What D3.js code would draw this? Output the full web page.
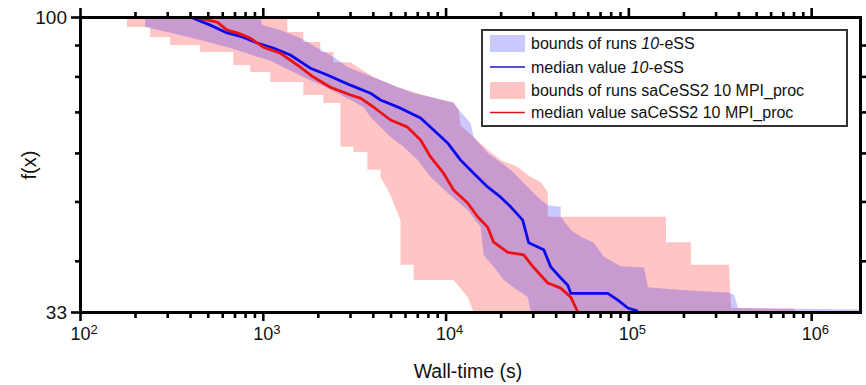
<!DOCTYPE html>
<html><head><meta charset="utf-8">
<script src="https://cdn.jsdelivr.net/npm/d3@7"></script>
<style>
body{margin:0;background:#fff;}
text{font-family:"Liberation Sans",Arial,Helvetica,sans-serif;fill:#111;}
</style>
</head><body>
<svg id="c" width="866" height="385"></svg>
<script>
// ---- data (time in s, f(x)) ----
const xLabelTicks = [1e2, 1e3, 1e4, 1e5, 1e6];
const yLabelTicks = [33, 100];
const yMinorTicks = [40, 50, 60, 70, 80, 90];

const blueMedian = [[401,100],[516,97.0],[639,94.2],[772,92.8],[933,90.7],[1141,89.0],[1415,86.7],[1821,82.5],[2256,80.4],[3017,77.4],[3881,75.1],[4404,73.2],[5667,71.0],[7295,68.4],[8598,65.4],[10255,62.3],[12085,58.4],[14238,55.6],[16986,52.8],[20013,50.8],[22711,49.0],[26421,46.6],[28493,42.8],[34435,41.7],[37610,39.1],[42669,37.5],[46613,36.5],[48415,35.4],[77208,35.4],[87597,34.5],[99380,33.5],[112740,33.1]];

const redMedian = [[416,100],[563,98.1],[639,95.2],[725,94.2],[854,92.4],[1006,89.3],[1247,87.3],[1545,83.5],[1891,79.8],[2344,76.8],[3017,74.6],[3421,73.7],[4032,71.3],[4995,67.9],[6192,66.1],[7295,63.0],[8276,59.1],[9750,55.6],[11060,52.2],[13200,49.7],[14972,47.2],[16986,45.4],[18323,42.9],[21862,41.3],[26753,40.9],[30350,39.0],[36218,36.8],[42669,36.1],[48415,34.9],[52889,33.0]];

// bounds of runs saCeSS2: worst run (upper) and best run (lower)
const redUpper = [[1006,100],[1006,99.6],[1362,99.6],[1362,94.5],[1667,94.5],[1667,91.0],[2066,91.0],[2066,87.7],[2434,87.7],[2434,84.4],[3017,84.4],[3295,82.9],[4032,79.8],[5458,76.8],[8276,74.0],[11060,72.6],[11780,70.5],[12085,66.6],[14238,63.7],[16986,60.7],[20013,58.4],[24807,56.9],[29224,54.8],[33150,53.8],[36218,51.8],[36218,47.2],[160550,47.2],[160550,42.9],[220000,42.9],[220000,39.4],[355400,39.4],[364400,33.5],[807000,33.4],[827600,33.0]];
const redLower = [[181,100],[181,96.3],[242,96.3],[242,92.8],[311,92.8],[311,90.0],[454,90.0],[454,87.7],[689,87.7],[689,83.5],[854,83.5],[854,81.3],[1099,81.3],[1099,78.3],[1667,78.3],[1667,74.6],[2145,74.6],[2145,72.4],[2659,72.4],[2659,61.4],[3133,61.4],[3133,60.2],[3737,60.2],[3737,56.3],[4404,56.3],[4404,54.8],[4995,51.2],[5667,46.6],[5667,39.4],[6679,39.4],[6679,37.2],[11060,37.2],[13200,34.9],[14238,33.0]];

// bounds of runs 10-eSS
const blueUpper = [[969,100],[994,97.0],[1247,95.2],[1605,92.4],[1989,89.0],[2496,85.7],[2904,82.9],[4404,78.9],[6679,75.1],[8276,74.0],[11060,72.4],[12085,70.0],[13709,67.1],[14238,63.7],[16986,60.0],[22711,56.3],[31923,50.8],[36218,49.3],[42669,49.0],[42669,47.2],[48415,44.9],[54929,43.8],[64714,42.8],[73411,40.6],[90974,39.2],[121600,39.0],[127900,36.2],[201500,35.8],[351000,35.5],[378500,35.2],[398100,33.5],[1850000,33.3],[1850000,33.0]];
const blueLower = [[227,100],[227,96.3],[300,94.5],[454,91.7],[664,89.0],[1099,84.8],[1667,79.8],[2256,76.6],[3017,73.2],[3554,71.3],[3881,68.7],[4995,63.7],[5888,61.4],[7023,58.4],[8276,54.8],[10255,51.6],[13200,48.4],[15553,45.4],[16152,40.9],[18323,39.1],[20785,37.2],[24807,35.8],[28135,34.9],[29224,33.0]];

const legendLabels = [
  ["bounds of runs ", "10", "-eSS"],
  ["median value ", "10", "-eSS"],
  ["bounds of runs saCeSS2 10 MPI_proc", "", ""],
  ["median value saCeSS2 10 MPI_proc", "", ""]
];
const legendKinds = ["blueBand", "blueLine", "redBand", "redLine"];

// ---- chart ----
const svg = d3.select("#c");
const x = d3.scaleLog().domain([100, 1.85e6]).range([80, 860]);
const y = d3.scaleLog().domain([33, 100]).range([312, 17]);

const BLUE = "#0a0af0", RED = "#ee1111";
const styles = {
  blueBand: {fill: "#0000ff", op: 0.21},
  redBand: {fill: "#ff0000", op: 0.23}
};

svg.append("defs").append("clipPath").attr("id", "clip")
  .append("rect").attr("x", 80).attr("y", 17).attr("width", 780).attr("height", 295);

const plot = svg.append("g").attr("clip-path", "url(#clip)");
const line = d3.line().x(d => x(d[0])).y(d => y(d[1]));

function band(upper, lower, st) {
  const poly = upper.concat(lower.slice().reverse());
  plot.append("path").attr("d", line(poly) + "Z")
    .attr("fill", st.fill).attr("fill-opacity", st.op).attr("stroke", "none");
}
band(redUpper, redLower, styles.redBand);
band(blueUpper, blueLower, styles.blueBand);

plot.append("path").attr("d", line(blueMedian)).attr("fill", "none")
  .attr("stroke", BLUE).attr("stroke-width", 2.8).attr("stroke-linejoin", "round");
plot.append("path").attr("d", line(redMedian)).attr("fill", "none")
  .attr("stroke", RED).attr("stroke-width", 2.8).attr("stroke-linejoin", "round");

// ---- axes ----
const xMinor = x.ticks().filter(v => !xLabelTicks.includes(v));

function styleAxis(g, keepDomain) {
  g.selectAll(".tick line").attr("stroke", "#000").attr("stroke-width", 2.6);
  if (keepDomain) g.select(".domain").attr("stroke", "#000").attr("stroke-width", 3).attr("stroke-linecap", "square");
  else g.select(".domain").remove();
}

// bottom
let g = svg.append("g").attr("transform", "translate(0,312)")
  .call(d3.axisBottom(x).tickValues(xMinor).tickSize(6).tickSizeOuter(0).tickFormat(""));
styleAxis(g, true);
g = svg.append("g").attr("transform", "translate(0,312)")
  .call(d3.axisBottom(x).tickValues(xLabelTicks).tickSize(9).tickSizeOuter(0).tickPadding(6).tickFormat(() => ""));
styleAxis(g, false);
g.selectAll(".tick text").each(function(d) {
  const t = d3.select(this).attr("font-size", 18).attr("fill", "#111").attr("font-family", null);
  t.text(null);
  t.append("tspan").text("10");
  t.append("tspan").attr("dy", "-0.42em").attr("font-size", 13).text(String(Math.round(Math.log10(d))));
  t.attr("dx", "0.2em");
});

// top
g = svg.append("g").attr("transform", "translate(0,17)")
  .call(d3.axisTop(x).tickValues(xMinor).tickSize(5).tickSizeOuter(0).tickFormat(""));
styleAxis(g, true);
g = svg.append("g").attr("transform", "translate(0,17)")
  .call(d3.axisTop(x).tickValues(xLabelTicks).tickSize(9).tickSizeOuter(0).tickFormat(""));
styleAxis(g, false);

// left
g = svg.append("g").attr("transform", "translate(80,0)")
  .call(d3.axisLeft(y).tickValues(yMinorTicks).tickSize(5).tickSizeOuter(0).tickFormat(""));
styleAxis(g, true);
g = svg.append("g").attr("transform", "translate(80,0)")
  .call(d3.axisLeft(y).tickValues(yLabelTicks).tickSize(9).tickSizeOuter(0).tickPadding(4).tickFormat(d3.format("d")));
styleAxis(g, false);
g.selectAll(".tick text").attr("font-size", 19).attr("fill", "#111").attr("font-family", null);

// right
g = svg.append("g").attr("transform", "translate(860,0)")
  .call(d3.axisRight(y).tickValues(yMinorTicks).tickSize(6).tickSizeOuter(0).tickFormat(""));
styleAxis(g, true);

// axis titles
svg.append("text").attr("x", 468).attr("y", 378).attr("text-anchor", "middle")
  .attr("font-size", 19.5).text("Wall-time (s)");
svg.append("text").attr("transform", "translate(36,165) rotate(-90)").attr("text-anchor", "middle")
  .attr("font-size", 20).text("f(x)");

// ---- legend ----
const lg = svg.append("g");
lg.append("rect").attr("x", 482).attr("y", 30).attr("width", 365).attr("height", 96)
  .attr("fill", "#fff").attr("stroke", "#333").attr("stroke-width", 2);
const rowY = [43.5, 67, 90.5, 112.5];
legendKinds.forEach((k, i) => {
  const cy = rowY[i];
  if (k === "blueBand" || k === "redBand") {
    const st = k === "blueBand" ? styles.blueBand : styles.redBand;
    lg.append("rect").attr("x", 490).attr("y", cy - 8.5).attr("width", 35).attr("height", 17)
      .attr("fill", st.fill).attr("fill-opacity", st.op);
  } else {
    lg.append("line").attr("x1", 490).attr("x2", 525).attr("y1", cy).attr("y2", cy)
      .attr("stroke", k === "blueLine" ? "#1515c8" : "#d81818").attr("stroke-width", 1.6);
  }
  const parts = legendLabels[i];
  const t = lg.append("text").attr("x", 531).attr("y", cy + 5.8).attr("font-size", 16);
  t.append("tspan").text(parts[0]);
  if (parts[1]) t.append("tspan").attr("font-style", "italic").text(parts[1]);
  if (parts[2]) t.append("tspan").text(parts[2]);
});
</script>
</body></html>
